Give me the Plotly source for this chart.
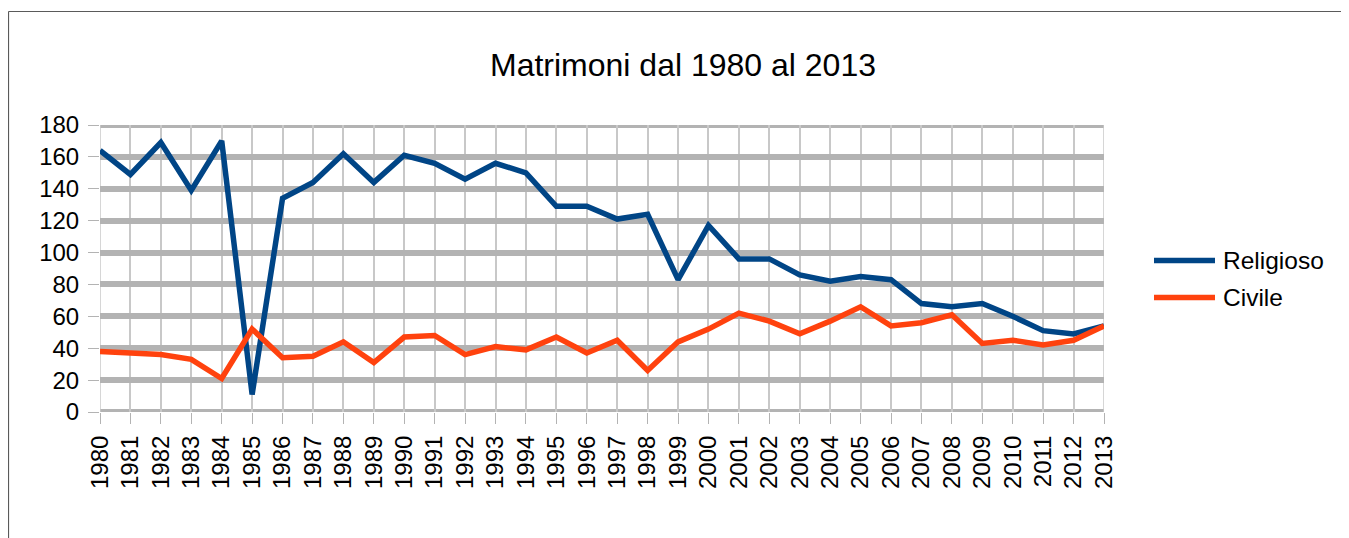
import plotly.graph_objects as go

years = list(range(1980, 2014))
religioso = [164, 149, 169, 139, 170, 11, 134, 144, 162, 144,
             161, 156, 146, 156, 150, 129, 129, 121, 124, 83,
             117, 96, 96, 86, 82, 85, 83, 68, 66, 68,
             60, 51, 49, 54]
civile = [38, 37, 36, 33, 21, 52, 34, 35, 44, 31,
          47, 48, 36, 41, 39, 47, 37, 45, 26, 44,
          52, 62, 57, 49, 57, 66, 54, 56, 61, 43,
          45, 42, 45, 54]
series_names = ["Religioso", "Civile"]
series_colors = ["#004586", "#ff420e"]
y_ticks = [0, 20, 40, 60, 80, 100, 120, 140, 160, 180]
title_text = "Matrimoni dal 1980 al 2013"

# page body has an 8px margin; work in screen pixels and convert
OFF = 8
W, H = 1349 - OFF, 538 - OFF
L, R, T, B = 100 - OFF, 1104 - OFF, 125 - OFF, 412 - OFF

def px(x):
    return (x - OFF - L) / (R - L)

def py(y):
    return (B - (y - OFF)) / (B - T)

FONT = "Liberation Sans, Arial, sans-serif"
GRID_H = "#b3b3b3"
GRID_V = "#c8c8c8"

fig = go.Figure()
for name, vals, col in zip(series_names, [religioso, civile], series_colors):
    fig.add_trace(go.Scatter(x=years, y=vals, mode="lines", name=name,
                             line=dict(color=col, width=5.5), showlegend=False))

frame = dict(color="#5a5a5a", width=1.2)
shapes = [
    dict(type="line", xref="paper", yref="paper",
         x0=px(8.5), x1=px(1420), y0=py(11.5), y1=py(11.5), line=frame),
    dict(type="line", xref="paper", yref="paper",
         x0=px(8.5), x1=px(8.5), y0=py(11.5), y1=py(620), line=frame),
]
# edge grid lines that plotly omits at the range boundaries
for yv in (y_ticks[0], y_ticks[-1]):
    shapes.append(dict(type="line", xref="paper", yref="y", x0=0, x1=1, y0=yv, y1=yv,
                       line=dict(color=GRID_H, width=6), layer="below"))
for xv in (years[0], years[-1]):
    shapes.append(dict(type="line", xref="x", yref="paper", x0=xv, x1=xv, y0=0, y1=1,
                       line=dict(color=GRID_V, width=1.5), layer="below"))

annotations = []
leg_y = [260.5, 297.5]
for name, col, yy in zip(series_names, series_colors, leg_y):
    shapes.append(dict(type="line", xref="paper", yref="paper",
                       x0=px(1154), x1=px(1215), y0=py(yy), y1=py(yy),
                       line=dict(color=col, width=5.5)))
    annotations.append(dict(text=name, xref="paper", yref="paper",
                            x=px(1221), y=py(yy), xanchor="left", yanchor="middle",
                            showarrow=False, font=dict(family=FONT, size=24.5, color="#000000")))

fig.update_layout(
    width=W, height=H,
    margin=dict(l=L, r=W - R, t=T, b=H - B, pad=0),
    paper_bgcolor="white", plot_bgcolor="white",
    font=dict(family=FONT, size=24, color="#000000"),
    title=dict(text=title_text, x=(683 - OFF) / W, xref="container", xanchor="center",
               y=1 - (65 - OFF) / H, yref="container", yanchor="middle",
               font=dict(family=FONT, size=32, color="#000000")),
    shapes=shapes,
    annotations=annotations,
    showlegend=False,
    xaxis=dict(range=[years[0], years[-1]], tickmode="array", tickvals=years,
               ticktext=[str(y) for y in years], tickangle=-90,
               showgrid=True, gridcolor=GRID_V, gridwidth=1.5,
               zeroline=False, showline=False,
               ticks="outside", ticklen=11, tickwidth=1, tickcolor="#b3b3b3",
               tickfont=dict(family=FONT, size=24, color="#000000"),
               ticklabelstandoff=2),
    yaxis=dict(range=[y_ticks[0], y_ticks[-1]], tickmode="array", tickvals=y_ticks,
               showgrid=True, gridcolor=GRID_H, gridwidth=6,
               zeroline=False, showline=False,
               ticks="outside", ticklen=11, tickwidth=1, tickcolor="#b3b3b3",
               tickfont=dict(family=FONT, size=24, color="#000000"),
               ticklabelstandoff=4),
)

fig.write_html("out.html")
